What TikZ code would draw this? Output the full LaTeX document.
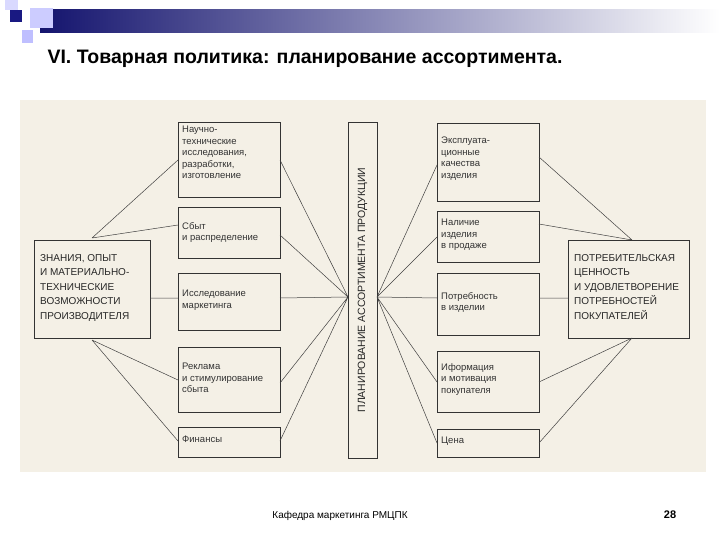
\documentclass[tikz,border=0pt]{standalone}
\usepackage{fontspec}
\setmainfont{Liberation Sans}
\definecolor{hdrblue}{RGB}{20,20,110}
\definecolor{sqblue}{RGB}{25,25,130}
\definecolor{photobg}{RGB}{244,240,230}
\begin{document}
\begin{tikzpicture}[x=1pt,y=-1pt,
  bx/.style={draw=black!80,line width=0.6pt},
  ln/.style={draw=black!75,line width=0.5pt},
  tx/.style={anchor=north west,align=left,font=\fontsize{9.5}{11.5}\selectfont,text=black!80,inner sep=0pt},
  btx/.style={anchor=north west,align=left,font=\fontsize{10}{14.5}\selectfont,text=black!85,inner sep=0pt}]
\useasboundingbox (0,0) rectangle (720,540);
\fill[white] (0,0) rectangle (720,540);
% header
\shade[left color=hdrblue,right color=white] (40,10) rectangle (720,33);
\fill[blue!15!white] (5,0) rectangle (18,10);
\fill[blue!20!white] (30,8) rectangle (53,28);
\fill[sqblue] (10,10) rectangle (22,22);
\fill[blue!25!white] (22,30) rectangle (33,43);
\node[anchor=west,font=\bfseries\fontsize{19.5}{22}\selectfont] (title) at (44,59) {VI. Товарная политика: планирование ассортимента.};
% photo background
\fill[photobg] (20,100) rectangle (706,472);
% boxes
\draw[bx] (34,240) rectangle (150,338);
\node[btx] (L) at (40,254) {ЗНАНИЯ, ОПЫТ\\И МАТЕРИАЛЬНО-\\ТЕХНИЧЕСКИЕ\\ВОЗМОЖНОСТИ\\ПРОИЗВОДИТЕЛЯ};
\draw[bx] (178,122) rectangle (280,197); \node[tx] (a1) at (182,126) {Научно-\\технические\\исследования,\\разработки,\\изготовление};
\draw[bx] (178,207) rectangle (280,258); \node[tx] (a2) at (182,222) {Сбыт\\и распределение};
\draw[bx] (178,273) rectangle (280,330); \node[tx] (a3) at (182,290) {Исследование\\маркетинга};
\draw[bx] (178,347) rectangle (280,412); \node[tx] (a4) at (182,363) {Реклама\\и стимулирование\\сбыта};
\draw[bx] (178,427) rectangle (280,457); \node[tx] (a5) at (182,436) {Финансы};
\draw[bx] (348,122) rectangle (377,458);
\node[rotate=90,font=\fontsize{10.5}{12}\selectfont,text=black!85] (C) at (362.5,290) {ПЛАНИРОВАНИЕ АССОРТИМЕНТА ПРОДУКЦИИ};
\draw[bx] (437,123) rectangle (539,201); \node[tx] (b1) at (441,137) {Эксплуата-\\ционные\\качества\\изделия};
\draw[bx] (437,211) rectangle (539,262); \node[tx] (b2) at (441,219) {Наличие\\изделия\\в продаже};
\draw[bx] (437,273) rectangle (539,335); \node[tx] (b3) at (441,292) {Потребность\\в изделии};
\draw[bx] (437,351) rectangle (539,412); \node[tx] (b4) at (441,363) {Иформация\\и мотивация\\покупателя};
\draw[bx] (437,429) rectangle (539,457); \node[tx] (b5) at (441,437) {Цена};
\draw[bx] (568,240) rectangle (689,338);
\node[btx] (R) at (574,254) {ПОТРЕБИТЕЛЬСКАЯ\\ЦЕННОСТЬ\\И УДОВЛЕТВОРЕНИЕ\\ПОТРЕБНОСТЕЙ\\ПОКУПАТЕЛЕЙ};
% connectors
\coordinate (lt) at (92,238); \coordinate (lb) at (92,340); \coordinate (lr) at (150,298);
\coordinate (cl) at (348,297); \coordinate (cr) at (377,297);
\coordinate (rt) at (632,240); \coordinate (rb) at (632,338); \coordinate (rl) at (568,298);
\draw[ln] (lt) -- (178,160) (lt) -- (178,225) (lr) -- (178,298) (lb) -- (178,380) (lb) -- (178,441);
\draw[ln] (cl) -- (280,160) (cl) -- (280,235) (cl) -- (280,298) (cl) -- (280,383) (cl) -- (280,441);
\draw[ln] (cr) -- (437,165) (cr) -- (437,237) (cr) -- (437,298) (cr) -- (437,382) (cr) -- (437,443);
\draw[ln] (rt) -- (539,157) (rt) -- (539,224) (rl) -- (539,298) (rb) -- (539,382) (rb) -- (539,443);
% footer
\node[font=\fontsize{10}{12}\selectfont] (foot) at (340,516) {Кафедра маркетинга РМЦПК};
\node[font=\bfseries\fontsize{11}{13}\selectfont] (num) at (670,515) {28};
\end{tikzpicture}
\end{document}
